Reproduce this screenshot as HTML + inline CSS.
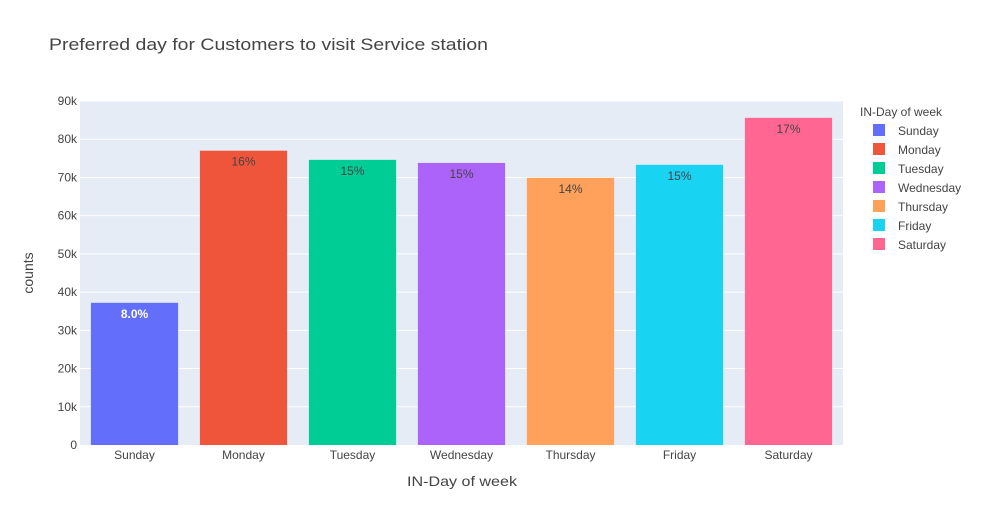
<!DOCTYPE html>
<html><head><meta charset="utf-8"><style>
body{margin:0;background:#fff;font-family:"Liberation Sans",Arial,sans-serif;}
svg text{font-family:"Liberation Sans",Arial,sans-serif;}
</style></head><body>
<svg id="chart" width="983" height="525" xmlns="http://www.w3.org/2000/svg">
<rect width="983" height="525" fill="#fff"/>
<text x="49" y="50" font-size="17" fill="#444" textLength="439" lengthAdjust="spacingAndGlyphs">Preferred day for Customers to visit Service station</text>
<rect x="80" y="101" width="763" height="344" fill="#e5ecf6"/>
<g id="grid"></g><g id="bars"></g><g id="axes"></g><g id="legend"></g>
<text x="462" y="486" font-size="14" fill="#444" text-anchor="middle" textLength="110" lengthAdjust="spacingAndGlyphs">IN-Day of week</text>
<text transform="translate(33,273) rotate(-90)" font-size="14" fill="#444" text-anchor="middle">counts</text>
<text x="860" y="116" font-size="12" fill="#444">IN-Day of week</text>
</svg>
<script>
const categories=["Sunday","Monday","Tuesday","Wednesday","Thursday","Friday","Saturday"];
const values=[37200,77000,74600,73800,69900,73300,85600];
const pctLabels=["8.0%","16%","15%","15%","14%","15%","17%"];
const colors=["#636efa","#ef553b","#00cc96","#ab63fa","#ffa15a","#19d3f3","#ff6692"];
const yTicks=[0,10000,20000,30000,40000,50000,60000,70000,80000,90000];
const yTickLabels=["0","10k","20k","30k","40k","50k","60k","70k","80k","90k"];
const NS="http://www.w3.org/2000/svg";
const x0=80,x1=843,yb=445,yt=101,ymax=90000;
const y=v=>yb-(v/ymax)*(yb-yt);
const band=(x1-x0)/categories.length;
const xc=i=>x0+band*(i+0.5);
function mk(t,a,p){const e=document.createElementNS(NS,t);for(const k in a)e.setAttribute(k,a[k]);p.appendChild(e);return e;}
const grid=document.getElementById('grid'),bars=document.getElementById('bars'),axes=document.getElementById('axes'),leg=document.getElementById('legend');
yTicks.forEach((v,i)=>{
 if(v>0){const l=mk('line',{x1:x0,x2:x1,y1:y(v),y2:y(v),stroke:'#fff','stroke-width':1},grid);
 
 }
 const t=mk('text',{x:x0-3,y:y(v)+4,'font-size':12,fill:'#444','text-anchor':'end'},axes);t.textContent=yTickLabels[i];
 
 
});
const bw=band*0.8;
categories.forEach((c,i)=>{
 const r=mk('rect',{x:xc(i)-bw/2,y:y(values[i]),width:bw,height:yb-y(values[i]),fill:colors[i]},bars);
 
 
 const lt=mk('text',{x:xc(i),y:y(values[i])+15,'font-size':12,'text-anchor':'middle',fill:i===0?'#fff':'#444','font-weight':i===0?'bold':'normal'},bars);lt.textContent=pctLabels[i];
 
 
 const xt=mk('text',{x:xc(i),y:yb+14,'font-size':12,fill:'#444','text-anchor':'middle'},axes);xt.textContent=c;
 
 
 const g=mk('g',{},leg);
 
 
 mk('rect',{x:873,y:124+i*19,width:12,height:12,fill:colors[i]},g);
 const tt=mk('text',{x:898,y:135+i*19,'font-size':12,fill:'#444'},g);tt.textContent=c;
});
</script>
</body></html>
